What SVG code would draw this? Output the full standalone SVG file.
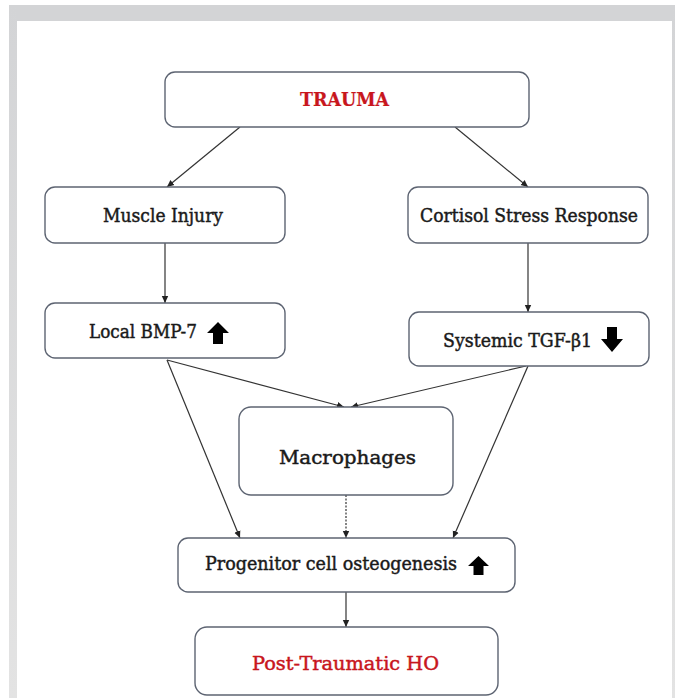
<svg xmlns="http://www.w3.org/2000/svg" width="675" height="698" viewBox="0 0 675 698">
<defs>
<linearGradient id="lg" x1="0" y1="0" x2="0" y2="1"><stop offset="0" stop-color="#d3d4d6"/><stop offset="1" stop-color="#e3e3e3"/></linearGradient>
<marker id="ah" markerWidth="8" markerHeight="8" refX="7" refY="4" orient="auto" markerUnits="userSpaceOnUse"><path d="M0,0.8 L7,4 L0,7.2 Z" fill="#222"/></marker>
</defs>
<style>
.box{fill:#fff;stroke:#5d6472;stroke-width:1.4}
.t{font-family:"DejaVu Serif","Liberation Serif",serif;font-size:18px;fill:#1a1a1a;stroke:#1a1a1a;stroke-width:0.45;text-anchor:start}
.red{fill:#c8161d;stroke:#c8161d}
.c{stroke:#333;stroke-width:1.2;fill:none;marker-end:url(#ah)}
.blk{fill:#000}
</style>
<rect x="0" y="0" width="675" height="698" fill="#fff"/>
<rect x="9" y="5" width="666" height="16" fill="#d3d4d6"/>
<rect x="9" y="5" width="8" height="693" fill="url(#lg)"/>
<rect x="672" y="5" width="3" height="693" fill="url(#lg)"/>
<g id="connectors">
<path class="c" d="M240,127 L167,187"/>
<path class="c" d="M455,127 L528,187"/>
<path class="c" d="M165,243 L165,303"/>
<path class="c" d="M528,243 L528,312"/>
<path class="c" d="M167,360 L344,407"/>
<path class="c" d="M526,366 L351,407"/>
<path class="c" d="M167,360 L240,538"/>
<path class="c" d="M528,366 L453,538"/>
<path class="c" d="M346,495 L346,538" stroke-dasharray="2,1.5"/>
<path class="c" d="M346,592 L346,627"/>
</g>
<g id="trauma"><rect class="box" x="165" y="72" width="364" height="55" rx="10"/><text class="t red" x="300" y="106" textLength="89" lengthAdjust="spacingAndGlyphs" font-weight="bold" style="stroke-width:0.2">TRAUMA</text></g>
<g id="muscle"><rect class="box" x="45" y="187" width="240" height="56" rx="10"/><text class="t" x="103" y="222" textLength="120" lengthAdjust="spacingAndGlyphs">Muscle Injury</text></g>
<g id="cortisol"><rect class="box" x="408" y="187" width="240" height="56" rx="10"/><text class="t" x="420" y="222" textLength="218" lengthAdjust="spacingAndGlyphs">Cortisol Stress Response</text></g>
<g id="bmp"><rect class="box" x="45" y="303" width="240" height="55" rx="10"/><text class="t" x="89" y="338" textLength="108" lengthAdjust="spacingAndGlyphs">Local BMP-7</text><path class="blk" d="M218,322 L229,333 L223,333 L223,344 L213,344 L213,333 L207,333 Z"/></g>
<g id="tgf"><rect class="box" x="409" y="312" width="240" height="54" rx="10"/><text class="t" x="443" y="347" textLength="149" lengthAdjust="spacingAndGlyphs">Systemic TGF-β1</text><path class="blk" d="M607,327 L617,327 L617,339 L623,339 L612,352 L601,339 L607,339 Z"/></g>
<g id="macrophages"><rect class="box" x="239" y="407" width="214" height="88" rx="12"/><text class="t" x="279" y="464" textLength="137" lengthAdjust="spacingAndGlyphs" font-size="20">Macrophages</text></g>
<g id="progenitor"><rect class="box" x="178" y="538" width="337" height="54" rx="10"/><text class="t" x="205" y="570" textLength="252" lengthAdjust="spacingAndGlyphs">Progenitor cell osteogenesis</text><path class="blk" d="M478.5,556 L489,566 L483.5,566 L483.5,575 L473.5,575 L473.5,566 L468,566 Z"/></g>
<g id="ho"><rect class="box" x="195" y="627" width="303" height="68" rx="12"/><text class="t red" x="252" y="670" textLength="187" lengthAdjust="spacingAndGlyphs">Post-Traumatic HO</text></g>
</svg>
